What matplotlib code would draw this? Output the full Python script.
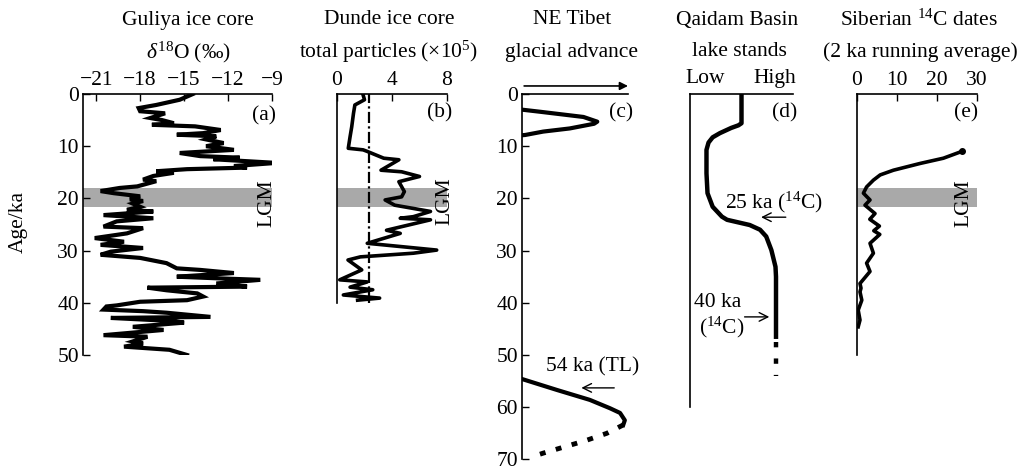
import matplotlib
matplotlib.use("Agg")
import matplotlib.pyplot as plt

plt.rcParams['font.family'] = ['Liberation Serif', 'DejaVu Serif']
plt.rcParams['mathtext.fontset'] = 'custom'
plt.rcParams['mathtext.rm'] = 'Liberation Serif'
plt.rcParams['mathtext.it'] = 'Liberation Serif:italic'
plt.rcParams['font.size'] = 15.5

# ---- data ----
# (a) Guliya d18O, permil vs age (ka)
guliya_d18o = [-14.4, -15.3, -16.9, -18.1, -18.0, -16.3, -17.3, -16.5, -15.7, -17.2,
               -14.25, -12.5, -13.7, -15.5, -12.8, -13.5, -12.3, -13.5, -11.6, -15.3,
               -13.9, -11.2, -13.0, -8.7, -11.6, -10.7, -14.8, -16.9, -15.7, -17.1,
               -17.8, -16.9, -18.2, -19.4, -20.7, -19.8, -18.0, -18.7, -17.8, -18.5,
               -18.0, -18.9, -17.1, -20.5, -17.1, -19.6, -20.5, -17.8, -18.9, -21.1,
               -19.1, -20.7, -17.8, -20.0, -20.7, -18.0, -16.2, -15.5, -13.9, -11.6,
               -15.5, -12.8, -9.8, -12.8, -10.7, -17.5, -16.2, -14.1, -13.7, -14.8,
               -18.0, -19.6, -20.3, -20.5, -17.8, -16.2, -13.2, -20.0, -15.7, -15.0,
               -18.5, -16.4, -20.5, -17.5, -18.5, -17.8, -19.1, -16.0, -14.8]
guliya_age = [0.0, 1.1, 2.1, 2.7, 3.3, 3.7, 4.6, 5.0, 5.6, 5.9,
              6.2, 6.9, 7.5, 7.8, 8.1, 8.7, 9.4, 10.0, 10.7, 11.3,
              11.9, 12.2, 12.5, 13.2, 13.8, 14.1, 14.4, 14.8, 15.1, 15.7,
              16.4, 16.7, 17.7, 18.0, 18.6, 19.0, 19.6, 20.2, 20.5, 21.0,
              21.6, 22.2, 22.5, 23.2, 23.8, 24.4, 25.4, 25.7, 26.7, 27.6,
              28.3, 28.9, 29.5, 30.2, 30.8, 31.4, 32.4, 33.4, 33.7, 34.3,
              35.0, 35.3, 35.6, 36.3, 36.9, 37.1, 37.6, 38.2, 38.8, 39.5,
              39.8, 40.5, 40.7, 41.3, 41.6, 41.9, 42.7, 42.9, 43.5, 43.8,
              44.6, 45.2, 46.2, 46.5, 47.4, 47.8, 48.4, 49.0, 50.0]

# (b) Dunde total particles (x10^5)
dunde_particles = [1.9, 2.0, 1.3, 1.2, 1.07, 0.95, 0.82, 1.9, 2.2, 3.4, 4.5, 3.2, 4.7,
                   6.0, 4.5, 4.9, 4.7, 3.5, 4.2, 6.8, 5.55, 4.6, 6.8, 3.6, 4.6, 2.2,
                   7.25, 5.55, 1.7, 0.8, 1.8, 0.2, 2.2, 0.95, 2.6, 0.46, 3.1, 1.5]
dunde_age = [0.2, 1.1, 2.1, 3.7, 6.3, 8.2, 10.4, 10.7, 11.0, 12.3, 12.6, 14.6, 14.9,
             15.8, 16.8, 18.7, 19.7, 20.3, 21.3, 22.5, 23.5, 23.8, 24.1, 26.1, 26.7, 28.6,
             29.9, 30.5, 31.2, 31.8, 33.7, 35.6, 36.0, 37.0, 37.5, 38.5, 39.1, 39.5]
dunde_mean = 2.3

# (c) NE Tibet glacial advance (relative extent)
adv_holo_x = [0.0, 0.17, 0.58, 0.71, 0.68, 0.45, 0.2, 0.03, 0.0]
adv_holo_age = [3.0, 3.4, 4.4, 5.3, 5.7, 6.6, 7.2, 7.85, 7.9]
adv_early_x = [0.0, 0.33, 0.64, 0.83, 0.925, 0.97, 0.955]
adv_early_age = [54.6, 56.7, 58.6, 60.2, 61.1, 62.5, 63.4]
adv_unc_x = [0.955, 0.8, 0.6, 0.4, 0.2, 0.08]
adv_unc_age = [63.4, 65.0, 66.4, 67.6, 68.8, 69.6]

# (d) Qaidam Basin lake level (0 = low, 1 = high)
lake_x = [0.50, 0.50, 0.47, 0.40, 0.29, 0.22, 0.18, 0.16, 0.16, 0.17, 0.22,
          0.31, 0.36, 0.58, 0.68, 0.74, 0.79, 0.83, 0.835, 0.835]
lake_age = [0.0, 5.6, 6.0, 6.5, 7.5, 8.3, 9.3, 10.7, 15.2, 19.0, 21.6,
            23.5, 24.1, 25.1, 26.0, 27.3, 29.9, 33.1, 35.0, 46.5]
lake_unc_x = [0.835, 0.835]
lake_unc_age = [47.6, 54.0]

# (e) Siberian 14C dates
sib_n = [26.2, 21.6, 15.8, 9.1, 5.8, 4.1, 2.4, 1.6, 3.25, 2.0, 4.5, 3.2, 5.6, 4.2,
         5.7, 3.25, 4.1, 2.4, 3.25, 0.75, 1.0, 0.75, 1.2, 0.3, 0.75, 0.3]
sib_age = [11.0, 12.3, 13.3, 14.6, 15.5, 16.5, 17.8, 19.0, 20.3, 21.3, 22.9, 24.0, 25.3, 26.2,
           26.9, 28.6, 30.5, 32.4, 34.0, 36.3, 37.2, 37.9, 39.5, 41.4, 43.3, 44.6]

lgm = (18.0, 21.6)

# ---- layout ----
W, H = 1020, 471
PX_PER_KA = 5.22
TOP = 94

fig = plt.figure(figsize=(W / 100, H / 100), dpi=100)


def make_axes(x0, x1, ka_max):
    h = ka_max * PX_PER_KA
    ax = fig.add_axes([x0 / W, 1 - (TOP + h) / H, (x1 - x0) / W, h / H])
    ax.set_ylim(ka_max, 0)
    ax.spines['right'].set_visible(False)
    ax.spines['bottom'].set_visible(False)
    for s in ('left', 'top'):
        ax.spines[s].set_linewidth(1.2)
    ax.xaxis.tick_top()
    ax.tick_params(direction='in', length=5, width=1, pad=3)
    ax.tick_params(axis='x', pad=3)
    return ax


def ftext(xp, yp, s, **kw):
    fig.text(xp / W, 1 - yp / H, s, ha='center', va='center', **kw)


# (a)
ax_a = make_axes(83, 272, 50)
ax_a.set_xlim(-21.9, -9)
ax_a.set_xticks([-21, -18, -15, -12, -9])
ax_a.set_yticks(range(0, 51, 10))
ax_a.axhspan(*lgm, color='#a9a9a9', lw=0)
ax_a.plot(guliya_d18o, guliya_age, color='black', lw=3, solid_joinstyle='miter')
ax_a.text(1.02, 4.1, '(a)', transform=ax_a.get_yaxis_transform(), ha='right', va='center')
ax_a.text(0.975, 21, 'LGM', transform=ax_a.get_yaxis_transform(), rotation=90,
          ha='center', va='center')

# (b)
ax_b = make_axes(337, 447, 40)
ax_b.set_xlim(0, 8)
ax_b.set_xticks([0, 4, 8])
ax_b.set_yticks([])
ax_b.axhspan(*lgm, color='#a9a9a9', lw=0)
ax_b.axvline(dunde_mean, color='black', lw=1.6, ls=(0, (5, 1.5, 1, 1.5)))
ax_b.plot(dunde_particles, dunde_age, color='black', lw=2.6)
ax_b.text(1.05, 3.6, '(b)', transform=ax_b.get_yaxis_transform(), ha='right', va='center')
ax_b.text(0.98, 20.5, 'LGM', transform=ax_b.get_yaxis_transform(), rotation=90,
          ha='center', va='center')

# (c)
ax_c = make_axes(522, 628, 70)
ax_c.set_xlim(0, 1)
ax_c.set_xticks([])
ax_c.set_yticks(range(0, 71, 10))
ax_c.annotate('', xy=(1.0, 1.022), xytext=(0.02, 1.022), xycoords='axes fraction',
              arrowprops=dict(arrowstyle='-|>', color='black', lw=1.2,
                              mutation_scale=12, shrinkA=0, shrinkB=0))
ax_c.plot(adv_holo_x, adv_holo_age, color='black', lw=3)
ax_c.plot(adv_early_x, adv_early_age, color='black', lw=3)
ax_c.plot(adv_unc_x, adv_unc_age, color='black', lw=3.5, ls=(0, (1.2, 2.2)))
ax_c.text(1.05, 3.6, '(c)', transform=ax_c.get_yaxis_transform(), ha='right', va='center')
ax_c.text(0.67, 52.3, '54 ka (TL)', ha='center', va='center')
ax_c.annotate('', xy=(0.56, 56.3), xytext=(0.87, 56.3),
              arrowprops=dict(arrowstyle='->', color='black', lw=1, shrinkA=0, shrinkB=0))

# (d)
ax_d = make_axes(690, 793, 60)
ax_d.set_xlim(0, 1)
ax_d.set_xticks([0.15, 0.82], ['Low', 'High'])
ax_d.tick_params(axis='x', length=0, pad=4)
ax_d.set_yticks([])
ax_d.plot(lake_x, lake_age, color='black', lw=3.2)
ax_d.plot(lake_unc_x, lake_unc_age, color='black', lw=3.2, ls=(0, (1.2, 2.5)))
ax_d.text(1.04, 3.6, '(d)', transform=ax_d.get_yaxis_transform(), ha='right', va='center')
ax_d.text(0.82, 20.7, '25 ka ($^{14}$C)', ha='center', va='center')
ax_d.annotate('', xy=(0.69, 23.6), xytext=(0.93, 23.6),
              arrowprops=dict(arrowstyle='->', color='black', lw=1, shrinkA=0, shrinkB=0))
ax_d.text(0.27, 40.0, '40 ka', ha='center', va='center')
ax_d.text(0.31, 44.8, '($^{14}$C)', ha='center', va='center')
ax_d.annotate('', xy=(0.77, 42.7), xytext=(0.53, 42.7),
              arrowprops=dict(arrowstyle='->', color='black', lw=1, shrinkA=0, shrinkB=0))

# (e)
ax_e = make_axes(857, 977, 50)
ax_e.set_xlim(0, 30)
ax_e.set_xticks([0, 10, 20, 30])
ax_e.set_yticks([])
ax_e.axhspan(*lgm, color='#a9a9a9', lw=0)
ax_e.plot(sib_n, sib_age, color='black', lw=2.6)
ax_e.plot(sib_n[:1], sib_age[:1], 'o', color='black', ms=4)
ax_e.text(1.01, 3.6, '(e)', transform=ax_e.get_yaxis_transform(), ha='right', va='center')
ax_e.text(0.89, 21, 'LGM', transform=ax_e.get_yaxis_transform(), rotation=90,
          ha='center', va='center')

# titles and y label
ftext(188, 20, 'Guliya ice core')
ftext(188, 52, r'$\delta^{18}$O (‰)')
ftext(389, 20, 'Dunde ice core')
ftext(389, 52, 'total particles (×10$^{5}$)')
ftext(572, 20, 'NE Tibet')
ftext(572, 52, 'glacial advance')
ftext(737, 20, 'Qaidam Basin')
ftext(739, 52, 'lake stands')
ftext(919, 20, 'Siberian $^{14}$C dates')
ftext(920, 52, '(2 ka running average)')
ftext(18, 222, 'Age/ka', rotation=90)

fig.savefig('out.png', dpi=100)
